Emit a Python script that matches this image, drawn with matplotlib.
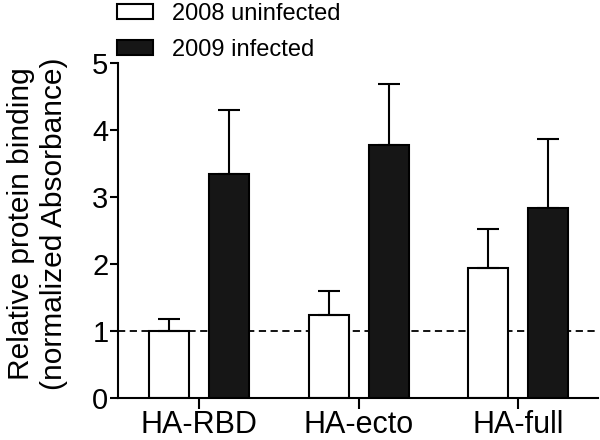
import numpy as np
import matplotlib.pyplot as plt
from matplotlib.patches import Patch

plt.rcParams['font.family'] = ['Liberation Sans', 'DejaVu Sans']

groups = ['HA-RBD', 'HA-ecto', 'HA-full']
uninf = [1.0, 1.24, 1.94]
uninf_err = [0.18, 0.36, 0.58]
inf = [3.34, 3.78, 2.84]
inf_err = [0.96, 0.91, 1.03]

fig = plt.figure(figsize=(6, 4.4), dpi=100)
ax = fig.add_axes([0.197, 0.0955, 0.80, 0.761])

x = np.arange(len(groups))
w = 0.25
off = 0.1875
ax.axhline(1, color='black', ls=(0, (4, 2.5)), lw=1.3, zorder=1)
ax.bar(x - off, uninf, w, color='white', edgecolor='black', lw=1.5, zorder=2,
       yerr=[np.zeros(3), uninf_err], error_kw=dict(lw=1.5, capsize=8, capthick=1.5, ecolor='black'))
ax.bar(x + off, inf, w, color='#161616', edgecolor='black', lw=1.5, zorder=2,
       yerr=[np.zeros(3), inf_err], error_kw=dict(lw=1.5, capsize=8, capthick=1.5, ecolor='black'))

ax.set_xlim(-0.506, 2.5)
ax.set_ylim(0, 5)
ax.set_xticks(x)
ax.set_xticklabels(groups, fontsize=22)
ax.set_yticks(range(6))
ax.tick_params(axis='y', labelsize=21, length=6, width=1.5, direction='out', pad=1)
ax.tick_params(axis='x', length=8, width=1.5, direction='out', pad=1)
for s in ['top', 'right']:
    ax.spines[s].set_visible(False)
for s in ['left', 'bottom']:
    ax.spines[s].set_linewidth(1.5)
ax.set_ylabel('Relative protein binding\n(normalized Absorbance)', fontsize=21.5, linespacing=1.2)
ax.yaxis.set_label_coords(-0.105, 0.52)

handles = [Patch(facecolor='white', edgecolor='black', lw=1.5),
           Patch(facecolor='#161616', edgecolor='black', lw=1.5)]
fig.legend(handles, ['2008 uninfected', '2009 infected'], loc='upper left',
           bbox_to_anchor=(0.16, 1.042), frameon=False, fontsize=17,
           handlelength=1.5, handleheight=0.6, handletextpad=0.8, labelspacing=0.6)

fig.savefig('out.png', dpi=100)
